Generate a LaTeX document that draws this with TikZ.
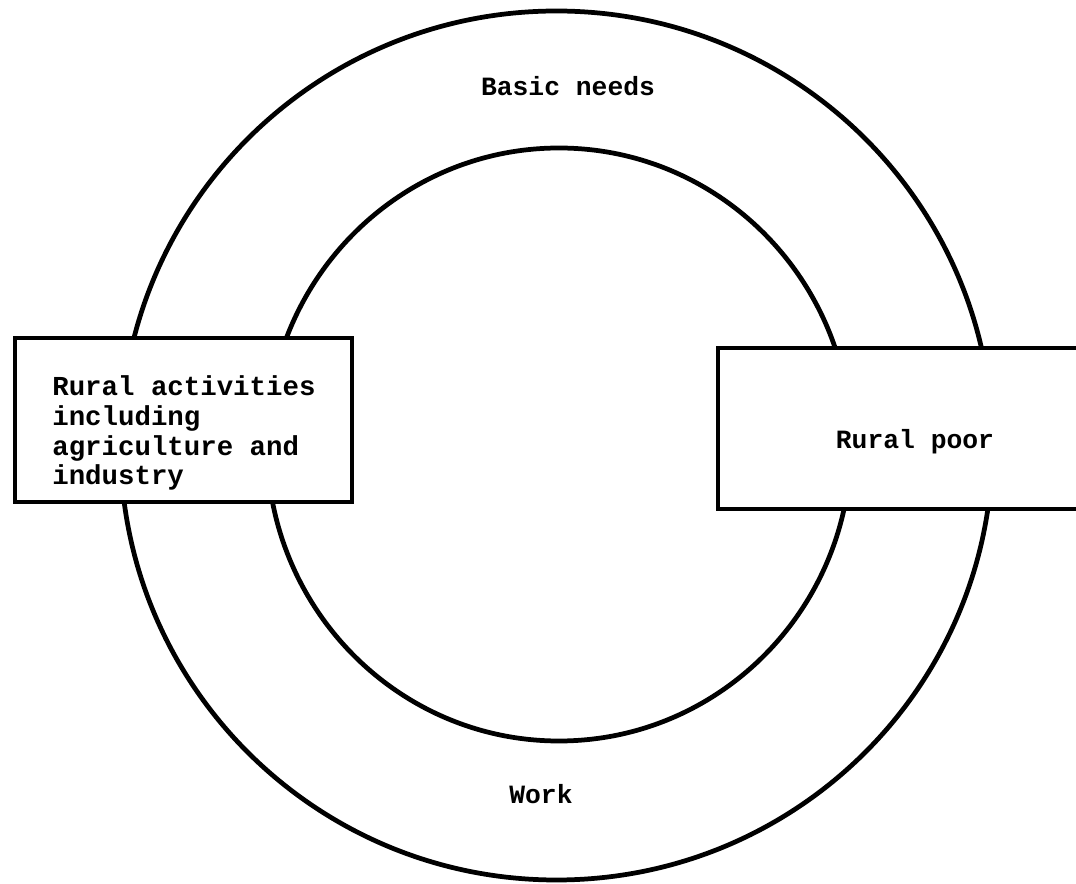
\documentclass[tikz,border=0pt]{standalone}
\usepackage{fontspec}
\newfontfamily\typefont{Liberation Mono}
\begin{document}
\begin{tikzpicture}[x=0.02cm, y=-0.02cm,
	ring/.style={line width=2.7pt},
	box/.style={draw, line width=2pt, fill=white, inner sep=0pt},
	txt/.style={font=\typefont\bfseries\fontsize{15}{17}\selectfont, inner sep=0pt}]

\useasboundingbox (0,0) rectangle (1076,884);

% the two rings
\draw[ring] (556.5,445.5) ellipse [x radius=436, y radius=434.5];
\draw[ring] (559,444.5) ellipse [x radius=292, y radius=296.5];

\node[txt] (needs) at (568,86) {Basic needs};
\node[txt] (work) at (541,794) {Work};

% boxes on the ring
\node[box, minimum width=6.74cm, minimum height=3.28cm] (activities) at (183.5,420) {};
\node[txt, font=\typefont\bfseries\fontsize{15.6}{17}\selectfont, align=left, anchor=west]
	(activitiestext) at (52,433)
	{Rural activities\\including\\agriculture and\\industry};

\node[box, minimum width=8.4cm, minimum height=3.22cm] (poor) at (928,428.5) {};
\node[txt] (poortext) at (915,442) {Rural poor};

\end{tikzpicture}
\end{document}
